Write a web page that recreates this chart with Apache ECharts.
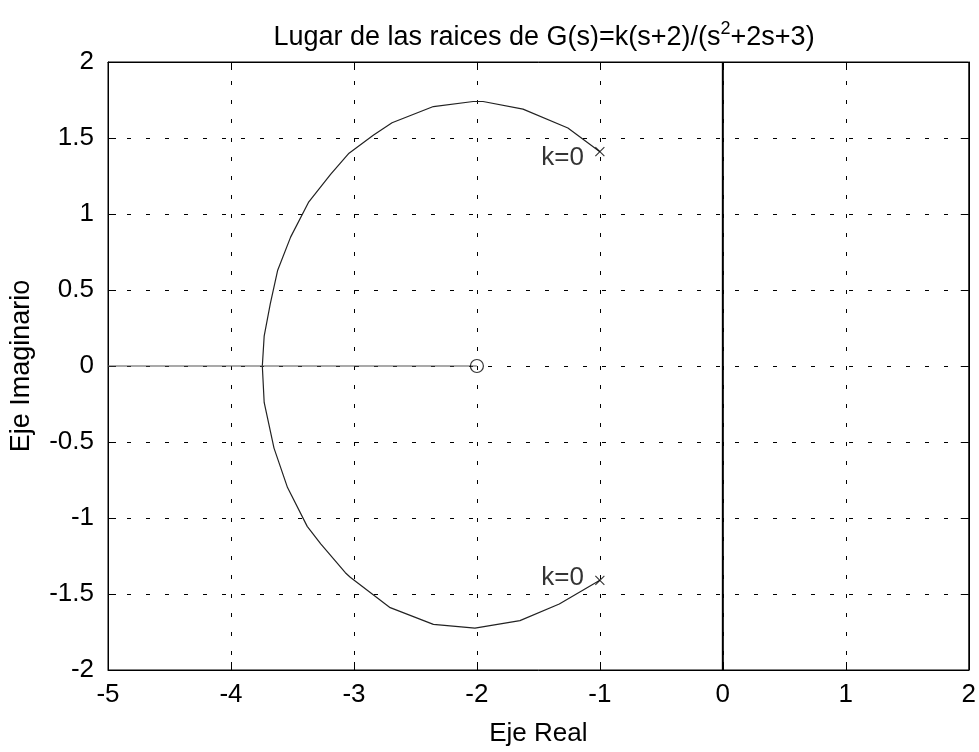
<!DOCTYPE html>
<html>
<head>
<meta charset="utf-8">
<script src="https://cdn.jsdelivr.net/npm/echarts@6/dist/echarts.min.js"></script>
<style>
html,body{margin:0;padding:0;background:#fff;}
#chart{width:979px;height:752px;}
</style>
</head>
<body>
<div id="chart"></div>
<script>
// ---- data ----
const titleText = 'Lugar de las raices de G(s)=k(s+2)/(s{sup|2}+2s+3)';
const xAxisName = 'Eje Real';
const yAxisName = 'Eje Imaginario';
const xTicks = { min: -5, max: 2, step: 1 };
const yTicks = { min: -2, max: 2, step: 0.5 };

// upper branch: from pole (-1, +1.41) to breakaway point on real axis
const upperX = [-1.00, -1.26, -1.625, -1.95, -2.03, -2.354, -2.69, -2.84, -3.04, -3.19, -3.37, -3.515, -3.62, -3.68, -3.73, -3.745];
const upperY = [1.41, 1.566, 1.69, 1.74, 1.74, 1.707, 1.60, 1.52, 1.40, 1.26, 1.076, 0.848, 0.63, 0.41, 0.196, 0];
// lower branch: from breakaway point to pole (-1, -1.41)
const lowerX = [-3.745, -3.73, -3.65, -3.54, -3.38, -3.27, -3.07, -3.03, -2.705, -2.354, -2.016, -1.65, -1.33, -1.00];
const lowerY = [0, -0.24, -0.54, -0.80, -1.055, -1.17, -1.36, -1.39, -1.59, -1.70, -1.724, -1.675, -1.566, -1.41];
// real-axis branches
const realX = [-5, -3.745, -2];
const realY = [0, 0, 0];
// imaginary axis line
const imagX = [0, 0];
const imagY = [-2, 2];
// poles and zero
const polesX = [-1, -1];
const polesY = [1.41, -1.41];
const zerosX = [-2];
const zerosY = [0];
// annotations
const annText = ['k=0', 'k=0'];
const annX = [-1, -1];
const annY = [1.41, -1.41];

const FONT = "'Liberation Sans', Arial, Helvetica, sans-serif";
const zip = (a, b) => a.map((v, i) => [v, b[i]]);

const chart = echarts.init(document.getElementById('chart'), null, { renderer: 'canvas' });

const commonLabel = { color: '#000', fontSize: 26, fontFamily: FONT };
const grid = { left: 107, top: 62, width: 864, height: 613, show: true, borderColor: '#000', borderWidth: 1, backgroundColor: '#fff' };

const option = {
  animation: false,
  backgroundColor: '#fff',
  title: {
    text: titleText,
    left: 539,
    top: 15,
    textAlign: 'center',
    textStyle: {
      color: '#000', fontSize: 27, fontWeight: 'normal', fontFamily: FONT, lineHeight: 35,
      rich: { sup: { fontSize: 18, fontFamily: FONT, color: '#000', verticalAlign: 'top', lineHeight: 19 } }
    }
  },
  grid: grid,
  xAxis: [
    {
      type: 'value', min: xTicks.min, max: xTicks.max, interval: xTicks.step, position: 'bottom',
      name: xAxisName, nameLocation: 'middle', nameGap: 51,
      nameTextStyle: { color: '#000', fontSize: 26, fontFamily: FONT },
      axisLine: { show: true, onZero: false, lineStyle: { color: '#000', width: 1 } },
      axisTick: { show: true, inside: true, length: 8, lineStyle: { color: '#000' } },
      axisLabel: Object.assign({ margin: 12 }, commonLabel),
      splitLine: { show: true, lineStyle: { color: '#000', width: 1, type: [4, 15] } }
    },
    {
      type: 'value', min: xTicks.min, max: xTicks.max, interval: xTicks.step, position: 'top',
      axisLine: { show: true, onZero: false, lineStyle: { color: '#000', width: 1 } },
      axisTick: { show: true, inside: true, length: 8, lineStyle: { color: '#000' } },
      axisLabel: { show: false }, splitLine: { show: false }
    }
  ],
  yAxis: [
    {
      type: 'value', min: yTicks.min, max: yTicks.max, interval: yTicks.step, position: 'left',
      name: yAxisName, nameLocation: 'middle', nameGap: 73,
      nameTextStyle: { color: '#000', fontSize: 27, fontFamily: FONT },
      axisLine: { show: true, onZero: false, lineStyle: { color: '#000', width: 1 } },
      axisTick: { show: true, inside: true, length: 8, lineStyle: { color: '#000' } },
      axisLabel: Object.assign({ margin: 14 }, commonLabel),
      splitLine: { show: true, lineStyle: { color: '#000', width: 1, type: [4, 15] } }
    },
    {
      type: 'value', min: yTicks.min, max: yTicks.max, interval: yTicks.step, position: 'right',
      axisLine: { show: true, onZero: false, lineStyle: { color: '#000', width: 1 } },
      axisTick: { show: true, inside: true, length: 8, lineStyle: { color: '#000' } },
      axisLabel: { show: false }, splitLine: { show: false }
    }
  ],
  series: [
    {
      name: 'imag', type: 'line', data: zip(imagX, imagY), showSymbol: false, silent: true,
      lineStyle: { color: '#000', width: 2 }, z: 3
    },
    {
      name: 'upper', type: 'line', data: zip(upperX, upperY), showSymbol: false, silent: true,
      lineStyle: { color: '#222', width: 1.2 }, z: 4
    },
    {
      name: 'lower', type: 'line', data: zip(lowerX, lowerY), showSymbol: false, silent: true,
      lineStyle: { color: '#222', width: 1.2 }, z: 4
    },
    {
      name: 'real', type: 'line', data: zip(realX, realY), showSymbol: false, silent: true,
      lineStyle: { color: '#555', width: 1.2 }, z: 4
    },
    {
      name: 'zeros', type: 'scatter', data: zip(zerosX, zerosY), symbol: 'circle', symbolSize: 13, silent: true,
      itemStyle: { color: 'rgba(0,0,0,0)', borderColor: '#000', borderWidth: 1.2 }, z: 5
    },
    {
      name: 'poles', type: 'scatter', data: zip(polesX, polesY),
      symbol: 'path://M0,0L10,10M10,0L0,10', symbolSize: 9, silent: true,
      itemStyle: { color: 'none', borderColor: '#000', borderWidth: 1.1 }, z: 5
    },
    {
      name: 'ann', type: 'scatter', symbolSize: 0, silent: true, z: 6,
      data: annX.map((x, i) => ({ value: [x, annY[i]], label: { show: true, formatter: annText[i], position: 'left', distance: 16, offset: [0, i === 0 ? 6 : -2] } })),
      label: { color: '#000', fontSize: 26, fontFamily: FONT }
    }
  ]
};
chart.setOption(option);
</script>
</body>
</html>
